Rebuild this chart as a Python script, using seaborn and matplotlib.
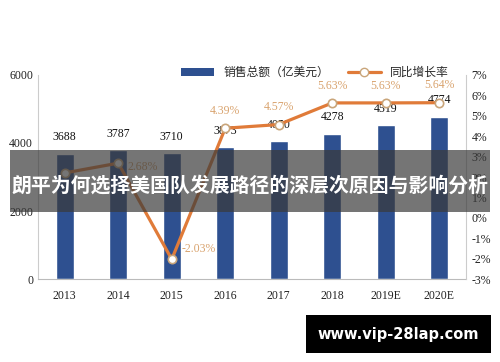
import matplotlib
matplotlib.use("Agg")
import matplotlib.pyplot as plt
import seaborn as sns
import numpy as np
import pandas as pd
from matplotlib.lines import Line2D
from matplotlib.patches import Patch, Rectangle

years = ["2013", "2014", "2015", "2016", "2017", "2018", "2019E", "2020E"]
sales = [3688, 3787, 3710, 3873, 4050, 4278, 4519, 4774]
growth = [2.2, 2.68, -2.03, 4.39, 4.57, 5.63, 5.63, 5.64]
growth_labels = ["", "2.68%", "-2.03%", "4.39%", "4.57%", "5.63%", "5.63%", "5.64%"]
left_ticks = [0, 2000, 4000, 6000]
right_ticks = [-3, -2, -1, 0, 1, 2, 3, 4, 5, 6, 7]
title = "朗平为何选择美国队发展路径的深层次原因与影响分析"
legend_bar = "销售总额（亿美元）"
legend_line = "同比增长率"
watermark = "www.vip-28lap.com"

sns.set_style("white")
plt.rcParams['font.family'] = ['Liberation Serif', 'Noto Sans CJK SC', 'DejaVu Sans']

df = pd.DataFrame({"year": years, "sales": sales, "growth": growth})

fig = plt.figure(figsize=(5, 3.62), dpi=100)
ax = fig.add_axes([0.076, 0.229, 0.856, 0.564])
bar_color = "#2E5090"
sns.barplot(data=df, x="year", y="sales", color=bar_color, width=0.34, ax=ax, saturation=1)
ax.set_ylim(0, 6000)
ax.set_yticks(left_ticks)
ax.set_xlim(-0.5, len(years) - 0.5)
ax.set_xlabel("")
ax.set_ylabel("")
ax.tick_params(axis='both', length=0, labelsize=8.5, colors="#222222")
ax.tick_params(axis='x', pad=8)
for s in ["top", "right"]:
    ax.spines[s].set_visible(False)
ax.spines["left"].set_color("#cccccc")
ax.spines["bottom"].set_color("#bbbbbb")

for i, v in enumerate(sales):
    ax.text(i, v + 300, str(v), ha="center", va="bottom", fontsize=8.5, color="#111111")

ax2 = ax.twinx()
line_color = "#E07B39"
sns.lineplot(x=np.arange(len(years)), y=growth, ax=ax2, color=line_color, linewidth=2.3,
             marker="o", markersize=6, markerfacecolor="white", markeredgecolor="#C9A57A",
             markeredgewidth=1.2)
ax2.set_ylim(-3, 7)
ax2.set_yticks(right_ticks)
ax2.set_yticklabels([f"{t}%" for t in right_ticks])
ax2.tick_params(axis='y', length=0, labelsize=8.5, colors="#222222", pad=4)
for s in ["top", "left", "bottom"]:
    ax2.spines[s].set_visible(False)
ax2.spines["right"].set_color("#cccccc")
ax2.set_xlim(-0.5, len(years) - 0.5)

lab_col = "#D9A36E"
for i, (v, t) in enumerate(zip(growth, growth_labels)):
    if not t:
        continue
    if i == 1:
        ax2.text(i + 0.18, v - 0.2, t, ha="left", va="center", fontsize=8.5, color=lab_col)
    elif i == 2:
        ax2.text(i + 0.18, v + 0.5, t, ha="left", va="center", fontsize=8.5, color=lab_col)
    else:
        ax2.text(i, v + 0.55, t, ha="center", va="bottom", fontsize=8.5, color=lab_col)

handles = [Patch(facecolor=bar_color, edgecolor="none"),
           Line2D([0], [0], color=line_color, lw=2.3, marker="o", markersize=6,
                  markerfacecolor="white", markeredgecolor="#C9A57A")]
fig.legend(handles, [legend_bar, legend_line], loc="center", bbox_to_anchor=(0.63, 0.8),
           ncol=2, frameon=False, handlelength=2.8, columnspacing=1.6,
           prop={'family': ['Noto Sans CJK SC', 'DejaVu Sans'], 'size': 8.5})

# banner overlay
fig.patches.append(Rectangle((10 / 500, 1 - 212 / 362), 480 / 500, 62 / 362,
                             transform=fig.transFigure, facecolor="#3a3a3a", alpha=0.7,
                             edgecolor="none", zorder=5))
fig.text(0.5, 1 - 185 / 362, title, ha="center", va="center", color="white",
         fontsize=14.3, fontweight="bold", family=['Noto Sans CJK SC', 'DejaVu Sans'], zorder=6)

# watermark box
fig.patches.append(Rectangle((306 / 500, 1 - 353 / 362), 185 / 500, 38 / 362,
                             transform=fig.transFigure, facecolor="black",
                             edgecolor="none", zorder=5))
fig.text(398.5 / 500, 1 - 334 / 362, watermark, ha="center", va="center", color="white",
         fontsize=10.5, fontweight="bold", family=['DejaVu Sans'], zorder=6)

fig.savefig("out.png", dpi=100)
